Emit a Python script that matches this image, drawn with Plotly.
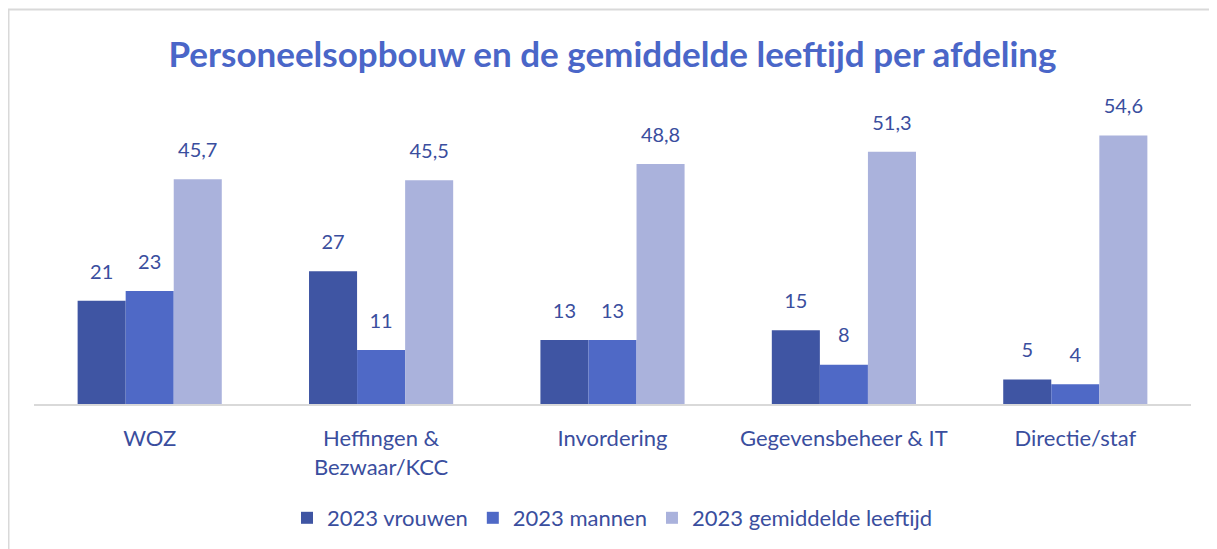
import plotly.graph_objects as go

categories = ["WOZ", "Heffingen &<br>Bezwaar/KCC", "Invordering", "Gegevensbeheer & IT", "Directie/staf"]
vrouwen = [21, 27, 13, 15, 5]
mannen = [23, 11, 13, 8, 4]
leeftijd = [45.7, 45.5, 48.8, 51.3, 54.6]
series_names = ["2023 vrouwen", "2023 mannen", "2023 gemiddelde leeftijd"]
colors = ["#3F55A3", "#4F69C6", "#AAB2DC"]
text_color = "#3A4E9E"
FONT = "Lato"

def fmt(v):
    return f"{v:g}".replace(".", ",")

W, H = 1209, 541
L, R, T, B = 26, 26, 101, 145
PW, PH = W - L - R, H - T - B

fig = go.Figure()
all_series = [vrouwen, mannen, leeftijd]
for i, (name, vals, col) in enumerate(zip(series_names, all_series, colors)):
    fig.add_trace(go.Bar(
        x=categories, y=vals, name=name, marker_color=col,
        marker_line_width=0, offsetgroup=str(i),
    ))
for i, vals in enumerate(all_series):
    fig.add_trace(go.Scatter(
        x=categories, y=vals, mode="markers+text", offsetgroup=str(i),
        text=[fmt(v) for v in vals], textposition="top center",
        marker=dict(size=26, opacity=0), showlegend=False, hoverinfo="skip",
        textfont=dict(size=20, color=text_color, family=FONT),
        cliponaxis=False,
    ))

def px_x(x):
    return (x - L) / PW

def px_y(y):
    return (H - B - y) / PH

fig.update_layout(
    width=W, height=H,
    barmode="group", bargap=0.377, bargroupgap=0,
    scattermode="group", scattergap=0.377,
    plot_bgcolor="white", paper_bgcolor="white",
    margin=dict(l=L, r=R, t=T, b=B, autoexpand=False),
    font=dict(family=FONT, color=text_color, size=20),
    title=dict(text="<b>Personeelsopbouw en de gemiddelde leeftijd per afdeling</b>",
               x=0.5, xanchor="center", y=1 - 47 / H, yanchor="middle",
               font=dict(size=35, color="#4A66C8", family=FONT)),
    xaxis=dict(showline=True, linecolor="#D9D9D9", linewidth=1.5, ticks="",
               automargin=False,
               tickfont=dict(size=22, color=text_color), ticklabelstandoff=14),
    yaxis=dict(range=[0, 60], visible=False, showgrid=False, automargin=False),
    legend=dict(orientation="h", x=0.5, xanchor="center", y=px_y(510), yanchor="middle",
                font=dict(size=22, color=text_color),
                traceorder="normal"),
    shapes=[
        dict(type="line", xref="paper", yref="paper",
             x0=px_x(-2), x1=px_x(W + 2), y0=px_y(1.5), y1=px_y(1.5),
             line=dict(color="#D9D9D9", width=2)),
        dict(type="line", xref="paper", yref="paper",
             x0=px_x(0.5), x1=px_x(0.5), y0=px_y(H + 2), y1=px_y(1.5),
             line=dict(color="#D9D9D9", width=2)),
    ],
)

fig.write_html("out.html")
